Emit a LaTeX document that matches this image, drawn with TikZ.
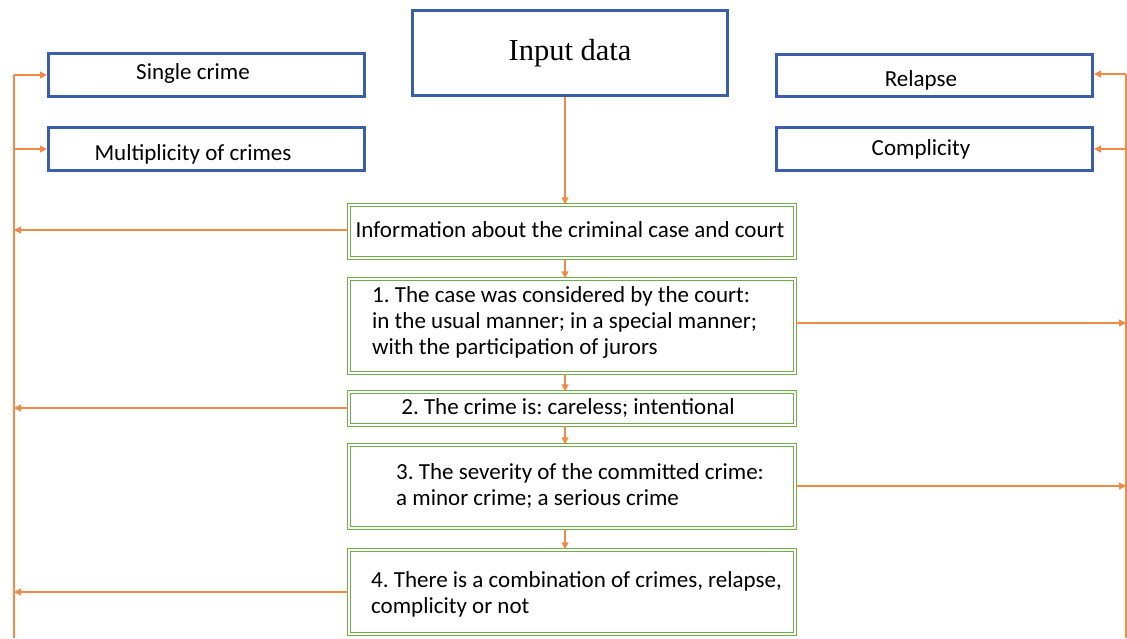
\documentclass[tikz,border=0pt]{standalone}
\usepackage{fontspec}
\setmainfont{Carlito}
\newfontfamily\titlefont{Liberation Serif}
\usetikzlibrary{arrows.meta}
\definecolor{bluebox}{HTML}{3A5FA8}
\definecolor{greenbox}{HTML}{70AD47}
\definecolor{orangeln}{HTML}{F08A48}
\frenchspacing
\tikzset{
  bluerect/.style={draw=bluebox, line width=3pt, fill=white, inner sep=0pt},
  lbl/.style={inner sep=0pt, font=\fontsize{23}{27}\selectfont},
  greenrect/.style={draw=greenbox, line width=1.4pt, double=white, double distance=2pt, inner sep=0pt},
  boxtext/.style={inner sep=0pt, align=left, anchor=west, font=\fontsize{23}{26}\selectfont},
  conn/.style={draw=orangeln, line width=1.4pt},
  arr/.style={conn, -{Triangle[length=7pt,width=7pt]}},
}
\begin{document}
\frenchspacing
\begin{tikzpicture}[x=1pt,y=-1pt]
\useasboundingbox (0,0) rectangle (1127,638);
% blue boxes
\node[bluerect, minimum width=315pt, minimum height=85pt, font=\titlefont\fontsize{30.5}{34}\selectfont] (input) at (570,53) {Input data};
\node[bluerect, minimum width=316pt, minimum height=43pt] (single) at (206.5,75) {};
\node[lbl] (singlet) at (193,73.5) {Single crime};
\node[bluerect, minimum width=316pt, minimum height=43pt] (multi) at (206.5,149) {};
\node[lbl] (multit) at (193,154) {Multiplicity of crimes};
\node[bluerect, minimum width=316pt, minimum height=42pt] (relapse) at (934.5,75.5) {};
\node[lbl] (relapset) at (921,80) {Relapse};
\node[bluerect, minimum width=316pt, minimum height=43pt] (compl) at (934.5,149) {};
\node[lbl] (complt) at (921,149.5) {Complicity};
% green boxes
\node[greenrect, minimum width=446pt, minimum height=53pt] (info) at (572,231.5) {};
\node[boxtext, anchor=center] (infot) at (570,230) {Information about the criminal case and court};
\node[greenrect, minimum width=446pt, minimum height=94pt] (b1) at (572,326) {};
\node[boxtext] (b1t) at (372,322) {1. The case was considered by the court:\\ in the usual manner; in a special manner;\\ with the participation of jurors};
\node[greenrect, minimum width=446pt, minimum height=33pt] (b2) at (572,408.5) {};
\node[boxtext, anchor=center] (b2t) at (568,408) {2. The crime is: careless; intentional};
\node[greenrect, minimum width=446pt, minimum height=83pt] (b3) at (572,486.5) {};
\node[boxtext] (b3t) at (396,486) {3. The severity of the committed crime:\\ a minor crime; a serious crime};
\node[greenrect, minimum width=446pt, minimum height=84pt] (b4) at (572,592) {};
\node[boxtext] (b4t) at (371,594) {4. There is a combination of crimes, relapse,\\ complicity or not};
% bus coordinates
\coordinate (ax) at (565,0);
\coordinate (Ltop) at (14,75);
\coordinate (Lbot) at (14,638);
\coordinate (Rtop) at (1126,74);
\coordinate (Rbot) at (1126,638);
% vertical chain
\draw[arr] (input.south -| ax) -- (info.north -| ax);
\draw[arr] (info.south -| ax) -- (b1.north -| ax);
\draw[arr] (b1.south -| ax) -- (b2.north -| ax);
\draw[arr] (b2.south -| ax) -- (b3.north -| ax);
\draw[arr] (b3.south -| ax) -- (b4.north -| ax);
% left bus
\draw[conn] (Ltop) -- (Lbot);
\draw[arr] (Ltop) -- (single.west |- Ltop);
\draw[arr] (multi.west -| Ltop) -- (multi.west);
\draw[arr] ([yshift=1.5pt]info.west) -- ([yshift=1.5pt]info.west -| Ltop);
\draw[arr] ([yshift=0.5pt]b2.west) -- ([yshift=0.5pt]b2.west -| Ltop);
\draw[arr] (b4.west) -- (b4.west -| Ltop);
% right bus
\draw[conn] (Rtop) -- (Rbot);
\draw[arr] (Rtop) -- (relapse.east |- Rtop);
\draw[arr] (compl.east -| Rtop) -- (compl.east);
\draw[arr] ([yshift=3pt]b1.east) -- ([yshift=3pt]b1.east -| Rtop);
\draw[arr] ([yshift=0.5pt]b3.east) -- ([yshift=0.5pt]b3.east -| Rtop);
\end{tikzpicture}
\end{document}
